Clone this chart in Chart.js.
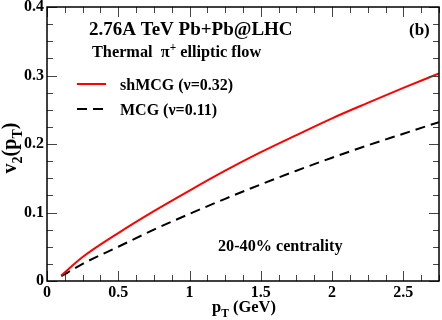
<!DOCTYPE html>
<html>
<head>
<meta charset="utf-8">
<script src="https://cdn.jsdelivr.net/npm/chart.js@4/dist/chart.umd.min.js"></script>
<style>
  body { margin: 0; background: #fff; }
</style>
</head>
<body>
<canvas id="myChart" width="442" height="320"></canvas>
<script>
// pT values (GeV)
const ptValues = [0.1, 0.25, 0.5, 0.75, 1.0, 1.25, 1.5, 1.75, 2.0, 2.25, 2.5, 2.75];
// v2 for shMCG (nu=0.32), red solid
const shMCG = [0.008, 0.035, 0.070, 0.102, 0.132, 0.161, 0.188, 0.213, 0.2375, 0.260, 0.282, 0.303];
// v2 for MCG (nu=0.11), black dashed
const MCG = [0.007, 0.025, 0.050, 0.075, 0.098, 0.120, 0.141, 0.161, 0.180, 0.198, 0.215, 0.232];

const xTickLabels = ['0', '0.5', '1', '1.5', '2', '2.5'];
const yTickLabels = ['0', '0.1', '0.2', '0.3', '0.4'];

const FONT = '"Liberation Serif", "Times New Roman", serif';

const isMultiple = (v, step) => Math.abs(v / step - Math.round(v / step)) < 1e-6;

function toPoints(xs, ys) {
    return xs.map((x, i) => ({ x: x, y: ys[i] }));
}

// draws text with sub/superscripts, segments = [[text, 'sub'|'sup'|undefined], ...]
function richText(ctx, segments, x, y, size) {
    let cx = x;
    segments.forEach(([t, kind]) => {
        let s = size, dy = 0;
        if (kind === 'sub') { s = size * 0.7; dy = size * 0.28; }
        if (kind === 'sup') { s = size * 0.7; dy = -size * 0.38; }
        ctx.font = 'bold ' + s + 'px ' + FONT;
        ctx.fillText(t, cx, y + dy);
        cx += ctx.measureText(t).width;
    });
    return cx - x;
}
function richWidth(ctx, segments, size) {
    let w = 0;
    segments.forEach(([t, kind]) => {
        const s = kind ? size * 0.7 : size;
        ctx.font = 'bold ' + s + 'px ' + FONT;
        w += ctx.measureText(t).width;
    });
    return w;
}

const overlay = {
    id: 'overlay',
    afterDraw(chart) {
        const { ctx, chartArea: a, scales: { x, y } } = chart;
        ctx.save();

        // inward ticks on all four sides
        ctx.strokeStyle = '#444';
        ctx.lineWidth = 1;
        x.ticks.forEach(t => {
            const px = Math.round(x.getPixelForValue(t.value)) + 0.5;
            const len = isMultiple(t.value, 0.5) ? 10 : 6;
            ctx.beginPath();
            ctx.moveTo(px, a.bottom); ctx.lineTo(px, a.bottom - len);
            ctx.moveTo(px, a.top); ctx.lineTo(px, a.top + len);
            ctx.stroke();
        });
        y.ticks.forEach(t => {
            const py = Math.round(y.getPixelForValue(t.value)) + 0.5;
            const len = isMultiple(t.value, 0.1) ? 10 : 6;
            ctx.beginPath();
            ctx.moveTo(a.left, py); ctx.lineTo(a.left + len, py);
            ctx.moveTo(a.right, py); ctx.lineTo(a.right - len, py);
            ctx.stroke();
        });

        // frame
        ctx.strokeStyle = '#000';
        ctx.lineWidth = 1.5;
        ctx.strokeRect(a.left, a.top, a.right - a.left, a.bottom - a.top);

        ctx.fillStyle = '#000';
        ctx.textBaseline = 'alphabetic';
        ctx.textAlign = 'left';

        // header texts
        richText(ctx, [['2.76A TeV Pb+Pb@LHC']], 89, 35, 19);
        richText(ctx, [['(b)']], 409, 35, 17);
        richText(ctx, [['Thermal  \u03c0'], ['+', 'sup'], [' elliptic flow']], 92, 57, 16.3);
        richText(ctx, [['20-40% centrality']], 218, 251, 16.2);

        // legend
        const ds = chart.data.datasets;
        [84, 109].forEach((ly, i) => {
            const d = ds[i];
            ctx.save();
            ctx.strokeStyle = d.borderColor;
            ctx.lineWidth = d.borderWidth;
            ctx.setLineDash(d.borderDash || []);
            ctx.beginPath();
            ctx.moveTo(77, ly); ctx.lineTo(106, ly);
            ctx.stroke();
            ctx.restore();
            richText(ctx, [[d.label]], 120, ly + 6, 16);
        });

        // axis titles
        const xt = [['p'], ['T', 'sub'], [' (GeV)']];
        const xw = richWidth(ctx, xt, 16.5);
        richText(ctx, xt, 244 - xw / 2, 312, 16.5);

        const yt = [['v'], ['2', 'sub'], ['(p'], ['T', 'sub'], [')']];
        const yw = richWidth(ctx, yt, 20);
        ctx.save();
        ctx.translate(16, 148);
        ctx.rotate(-Math.PI / 2);
        richText(ctx, yt, -yw / 2, 0, 20);
        ctx.restore();

        ctx.restore();
    }
};

const myChartRef = document.getElementById('myChart').getContext('2d');

new Chart(myChartRef, {
    type: 'line',
    data: {
        datasets: [
            {
                label: 'shMCG (\u03bd=0.32)',
                data: toPoints(ptValues, shMCG),
                borderColor: '#ff0000',
                borderWidth: 2,
                fill: false,
                pointRadius: 0,
                cubicInterpolationMode: 'monotone'
            },
            {
                label: 'MCG (\u03bd=0.11)',
                data: toPoints(ptValues, MCG),
                borderColor: '#000000',
                borderWidth: 2,
                borderDash: [10, 6],
                fill: false,
                pointRadius: 0,
                cubicInterpolationMode: 'monotone'
            }
        ]
    },
    options: {
        responsive: false,
        animation: false,
        devicePixelRatio: 1,
        layout: { padding: { top: 7, right: 3, left: 0, bottom: 0 } },
        plugins: {
            legend: { display: false },
            tooltip: { enabled: false }
        },
        scales: {
            x: {
                type: 'linear',
                min: 0,
                max: 2.75,
                border: { display: false },
                grid: { display: false, drawTicks: false },
                ticks: {
                    stepSize: 0.125,
                    autoSkip: false,
                    maxRotation: 0,
                    padding: 2,
                    color: '#000',
                    font: { family: FONT, size: 16, weight: 'bold' },
                    callback: v => isMultiple(v, 0.5) ? xTickLabels[Math.round(v / 0.5)] : ''
                },
                afterFit: s => { s.height = 39; s.paddingLeft = 0; s.paddingRight = 0; }
            },
            y: {
                min: 0,
                max: 0.4,
                border: { display: false },
                grid: { display: false, drawTicks: false },
                ticks: {
                    stepSize: 0.025,
                    autoSkip: false,
                    padding: 3,
                    color: '#000',
                    font: { family: FONT, size: 16, weight: 'bold' },
                    callback: v => isMultiple(v, 0.1) ? yTickLabels[Math.round(v / 0.1)] : ''
                },
                afterFit: s => { s.width = 47; s.paddingTop = 0; s.paddingBottom = 0; }
            }
        }
    },
    plugins: [overlay]
});
</script>
</body>
</html>
